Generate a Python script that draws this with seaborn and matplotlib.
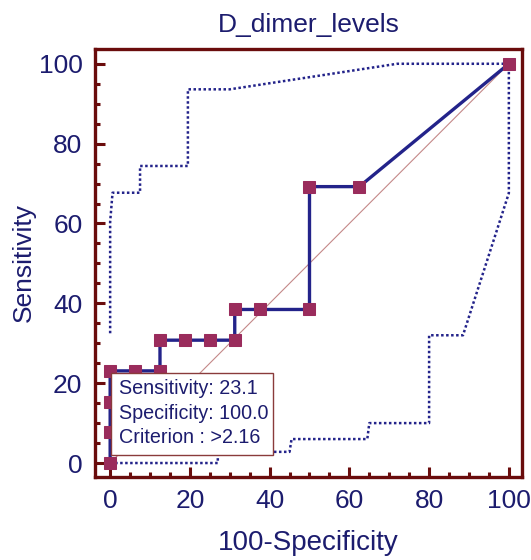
import matplotlib
matplotlib.use("Agg")
import matplotlib.pyplot as plt
import seaborn as sns
from matplotlib.ticker import MultipleLocator
from matplotlib.patches import Rectangle

# ROC curve (100-Specificity, Sensitivity)
fpr = [0, 0, 0, 0, 6.25, 12.5, 12.5, 18.75, 25, 31.25, 31.25, 37.5, 50, 50, 62.5, 100]
tpr = [0, 7.69, 15.38, 23.08, 23.08, 23.08, 30.77, 30.77, 30.77, 30.77, 38.46, 38.46, 38.46, 69.23, 69.23, 100]

# confidence bounds
upper_x = [0, 0, 0.6, 7.5, 7.5, 19.5, 19.5, 30, 72, 100]
upper_y = [32.5, 60.4, 67.7, 67.7, 74.4, 74.4, 93.6, 93.6, 100, 100]
lower_x = [0, 27, 27, 45, 45.5, 64.5, 65, 80, 80, 88.5, 100, 100]
lower_y = [0, 0, 2.8, 2.8, 6, 6, 10, 10, 32, 32, 67.6, 100]

diag = [0, 100]

title = "D_dimer_levels"
xlabel = "100-Specificity"
ylabel = "Sensitivity"
info_lines = ["Sensitivity: 23.1", "Specificity: 100.0", "Criterion : >2.16"]

navy = "#23238a"
text_col = "#1c1c6e"
marker_col = "#9a2c5c"
frame_col = "#6a0c0c"

sns.set_theme(style="white")
plt.rcParams['font.family'] = ['Liberation Sans', 'DejaVu Sans']

fig = plt.figure(figsize=(5.31, 5.6), dpi=100)
ax = fig.add_axes([95 / 531, 1 - 477 / 560, 427 / 531, 428 / 560])

sns.lineplot(x=diag, y=diag, color="#c48888", lw=0.8, ax=ax, zorder=1)
sns.lineplot(x=upper_x, y=upper_y, sort=False, estimator=None, color=navy,
             lw=1.8, linestyle=(0, (1, 1)), ax=ax, zorder=2)
sns.lineplot(x=lower_x, y=lower_y, sort=False, estimator=None, color=navy,
             lw=1.8, linestyle=(0, (1, 1)), ax=ax, zorder=2)
sns.lineplot(x=fpr, y=tpr, sort=False, estimator=None, color=navy, lw=2.4,
             marker='s', markersize=8, markerfacecolor=marker_col,
             markeredgecolor=marker_col, ax=ax, zorder=3)

# info box
ax.add_patch(Rectangle((0.3, 2.0), 40.5, 20.6, facecolor="white",
                       edgecolor="#8a3b3b", lw=1.0, zorder=4))
for i, line in enumerate(info_lines):
    ax.text(2.3, 18.6 - i * 6.1, line, color=text_col, fontsize=14.2,
            va='center', ha='left', zorder=5)

ax.set_xlim(-3.8, 103.3)
ax.set_ylim(-3.5, 103.7)
ax.xaxis.set_major_locator(MultipleLocator(20))
ax.xaxis.set_minor_locator(MultipleLocator(5))
ax.yaxis.set_major_locator(MultipleLocator(20))
ax.yaxis.set_minor_locator(MultipleLocator(5))
ax.tick_params(which='both', direction='in', color=frame_col, width=2.2,
               bottom=True, left=True, top=False, right=False)
ax.tick_params(which='major', length=7.5)
ax.tick_params(which='minor', length=3.8)
ax.tick_params(axis='x', which='major', labelsize=19, labelcolor=text_col, pad=9)
ax.tick_params(axis='y', which='major', labelsize=19, labelcolor=text_col, pad=9)

for sp in ax.spines.values():
    sp.set_color(frame_col)
    sp.set_linewidth(2.4)

ax.set_title(title, fontsize=19, color=text_col, pad=12)
ax.set_xlabel(xlabel, fontsize=20, color=text_col, labelpad=12)
ax.set_ylabel(ylabel, fontsize=19, color=text_col, labelpad=2)

fig.savefig("out.png", dpi=100, facecolor="white")
